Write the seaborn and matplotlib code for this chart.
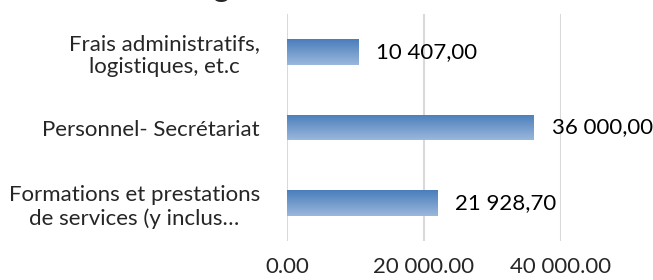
import numpy as np
import pandas as pd
import matplotlib
matplotlib.use("Agg")
import matplotlib.pyplot as plt
import seaborn as sns
from matplotlib.colors import LinearSegmentedColormap

categories = ["Frais administratifs,\nlogistiques, et.c",
              "Personnel- Secrétariat",
              "Formations et prestations\nde services (y inclus…"]
values = [10407.00, 36000.00, 21928.70]
value_labels = ["10 407,00", "36 000,00", "21 928,70"]
x_ticks = [0, 20000, 40000]
x_tick_labels = ["0.00", "20 000.00", "40 000.00"]
title = "Budget"

sns.set_theme(style="white")
plt.rcParams["font.family"] = ["Lato", "DejaVu Sans"]

df = pd.DataFrame({"cat": categories, "val": values})

fig = plt.figure(figsize=(6.53, 2.80), dpi=100)
ax = fig.add_axes([287/653, 39/280, 274/653, 227/280])

sns.barplot(data=df, y="cat", x="val", orient="h", ax=ax, width=0.34,
            color="#4F81BD", edgecolor="none", zorder=3)

ax.set_xlim(0, 40000)
ax.set_ylim(2.5, -0.5)
xl, yl = ax.get_xlim(), ax.get_ylim()

cmap = LinearSegmentedColormap.from_list("g", ["#4A7EBB", "#9AB7DC"])
grad = np.linspace(0, 1, 64).reshape(-1, 1)
for p in ax.patches:
    x0, y0 = p.get_x(), p.get_y()
    w, h = p.get_width(), p.get_height()
    p.set_facecolor("none")
    im = ax.imshow(grad, cmap=cmap, aspect="auto", origin="upper",
                   extent=[x0, x0 + w, y0 + h, y0], zorder=3)
    im.set_clip_path(p)
ax.set_xlim(xl)
ax.set_ylim(yl)

for p, lab in zip(ax.patches, value_labels):
    ax.annotate(lab, (p.get_x() + p.get_width(), p.get_y() + p.get_height() / 2),
                xytext=(18, 0), textcoords="offset pixels",
                va="center", ha="left", fontsize=16, color="black",
                annotation_clip=False)

ax.set_xticks(x_ticks)
ax.set_xticklabels(x_tick_labels, fontsize=16)
ax.grid(axis="x", color="#D9D9D9", linewidth=1.5, zorder=0)
ax.grid(axis="y", visible=False)
for s in ax.spines.values():
    s.set_visible(False)
ax.tick_params(axis="both", length=0)
ax.tick_params(axis="x", pad=11.5)
ax.tick_params(axis="y", pad=19.5)
for t in ax.get_yticklabels():
    t.set_fontsize(16)
    t.set_multialignment("center")
ax.set_xlabel("")
ax.set_ylabel("")

fig.text(160/653, 1 + 3/280, title, fontsize=22, fontweight="bold",
         ha="left", va="baseline")

fig.savefig("out.png", dpi=100)
